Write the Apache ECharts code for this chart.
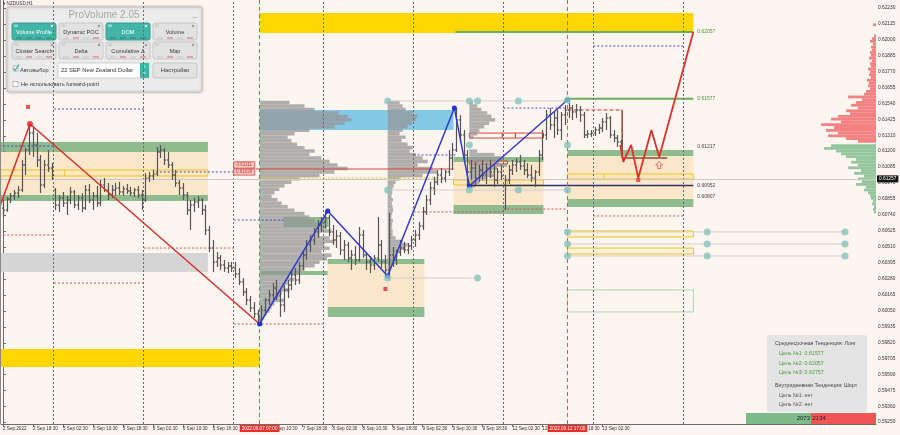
<!DOCTYPE html>
<html>
<head>
<meta charset="utf-8">
<script src="https://cdn.jsdelivr.net/npm/echarts@6/dist/echarts.min.js"></script>
<style>
  html, body { margin: 0; padding: 0; background: #fdf5ef; }
  #chart { width: 900px; height: 435px; }
</style>
</head>
<body>
<div id="chart"></div>
<script>
const FONT = '"Liberation Sans", "DejaVu Sans", sans-serif'

// ---- axes ----
const xTickIdx = [0, 8, 16, 24, 32, 40, 48, 56, 64, 72, 80, 88, 96, 104, 112, 120, 128, 136, 144, 152, 160]
const xTickLabels = ['2 Sep 2022', '2 Sep 18:30', '5 Sep 02:30', '5 Sep 10:30', '5 Sep 18:30', '6 Sep 02:30',
  '6 Sep 10:30', '6 Sep 18:30', '7 Sep 02:30', '7 Sep 10:30', '7 Sep 18:30', '8 Sep 02:30', '8 Sep 10:30',
  '8 Sep 18:30', '9 Sep 02:30', '9 Sep 10:30', '9 Sep 18:30', '12 Sep 02:30', '12 Sep 10:30', '12 Sep 18:30',
  '13 Sep 02:30']
const yTickValues = [0.62230, 0.62115, 0.62000, 0.61885, 0.61770, 0.61655, 0.61540, 0.61425, 0.61310, 0.61200,
  0.61085, 0.60970, 0.60855, 0.60740, 0.60625, 0.60510, 0.60395, 0.60280, 0.60165, 0.60050, 0.59935, 0.59820,
  0.59705, 0.59590, 0.59475, 0.59360, 0.59250]
const daySeparators = [13.5, 37.5, 61.5, 85.5, 109.5, 133.5, 157.5, 181.5]
const markedTimes = [68.5, 150.7]
const markedTimeLabels = ['2022.09.07 07:00', '2022.09.12 17:00']
const bidPrice = 0.61257

// ---- H1 bars: open, high, low, close ----
const bars = [
  [0.60790,0.60848,0.60726,0.60776],[0.60776,0.60870,0.60762,0.60855],[0.60855,0.60898,0.60826,0.60877],
  [0.60877,0.60920,0.60848,0.60898],[0.60898,0.60949,0.60862,0.60920],[0.60920,0.61136,0.60906,0.61100],
  [0.61100,0.61222,0.61028,0.61208],[0.61208,0.61395,0.61172,0.61330],[0.61330,0.61374,0.61158,0.61244],
  [0.61244,0.61330,0.61086,0.61136],[0.61136,0.61172,0.60898,0.60956],[0.60956,0.61136,0.60934,0.61100],
  [0.61100,0.61208,0.61050,0.61078],[0.61078,0.61114,0.60992,0.61028],[0.60920,0.60934,0.60776,0.60812],
  [0.60812,0.60884,0.60762,0.60862],[0.60862,0.60906,0.60798,0.60826],[0.60826,0.60877,0.60740,0.60848],
  [0.60848,0.60942,0.60819,0.60906],[0.60906,0.60920,0.60790,0.60812],[0.60812,0.60884,0.60776,0.60862],
  [0.60862,0.60898,0.60762,0.60790],[0.60790,0.60956,0.60776,0.60920],[0.60920,0.60963,0.60826,0.60848],
  [0.60848,0.60906,0.60776,0.60877],[0.60877,0.60949,0.60798,0.60826],[0.60826,0.60992,0.60805,0.60956],
  [0.60956,0.61006,0.60906,0.60920],[0.60920,0.60970,0.60848,0.60884],[0.60884,0.60956,0.60862,0.60920],
  [0.60920,0.60970,0.60877,0.60934],[0.60934,0.60978,0.60884,0.60906],[0.60906,0.60949,0.60877,0.60927],
  [0.60927,0.60963,0.60891,0.60913],[0.60913,0.60942,0.60877,0.60898],[0.60898,0.60934,0.60870,0.60920],
  [0.60920,0.60949,0.60862,0.60884],[0.60884,0.60920,0.60776,0.60848],[0.60848,0.61042,0.60834,0.61006],
  [0.61006,0.61050,0.60978,0.61021],[0.61021,0.61064,0.60992,0.61035],[0.61035,0.61230,0.61021,0.61194],
  [0.61194,0.61244,0.61150,0.61208],[0.61208,0.61222,0.61100,0.61136],[0.61136,0.61194,0.61078,0.61100],
  [0.61100,0.61122,0.60992,0.61028],[0.61028,0.61064,0.60942,0.60970],[0.60970,0.60992,0.60884,0.60934],
  [0.60934,0.60970,0.60848,0.60884],[0.60884,0.60906,0.60740,0.60776],[0.60776,0.60848,0.60632,0.60812],
  [0.60812,0.60862,0.60762,0.60834],[0.60834,0.60877,0.60790,0.60848],[0.60848,0.60862,0.60740,0.60776],
  [0.60776,0.60812,0.60596,0.60632],[0.60632,0.60661,0.60474,0.60502],[0.60502,0.60560,0.60330,0.60402],
  [0.60402,0.60474,0.60366,0.60430],[0.60430,0.60452,0.60344,0.60380],[0.60380,0.60416,0.60330,0.60358],
  [0.60358,0.60402,0.60322,0.60373],[0.60373,0.60402,0.60330,0.60358],[0.60358,0.60402,0.60286,0.60315],
  [0.60315,0.60358,0.60236,0.60258],[0.60258,0.60286,0.60157,0.60186],[0.60186,0.60214,0.60092,0.60128],
  [0.60128,0.60157,0.60042,0.60070],[0.60070,0.60114,0.59998,0.60027],[0.60027,0.60056,0.59948,0.59984],
  [0.59984,0.60092,0.59941,0.60056],[0.60056,0.60142,0.60020,0.60128],[0.60128,0.60200,0.60092,0.60164],
  [0.60164,0.60250,0.60128,0.60214],[0.60214,0.60272,0.60128,0.60157],[0.60157,0.60200,0.60006,0.60092],
  [0.60092,0.60236,0.60042,0.60200],[0.60200,0.60272,0.60142,0.60236],[0.60236,0.60344,0.60200,0.60308],
  [0.60308,0.60358,0.60236,0.60272],[0.60272,0.60402,0.60243,0.60373],[0.60373,0.60488,0.60344,0.60452],
  [0.60452,0.60560,0.60416,0.60524],[0.60524,0.60596,0.60474,0.60560],[0.60560,0.60646,0.60524,0.60618],
  [0.60618,0.60704,0.60574,0.60668],[0.60668,0.60726,0.60618,0.60690],[0.60690,0.60769,0.60646,0.60718],
  [0.60718,0.60740,0.60589,0.60618],[0.60618,0.60668,0.60524,0.60560],[0.60560,0.60632,0.60502,0.60589],
  [0.60589,0.60618,0.60452,0.60488],[0.60488,0.60560,0.60416,0.60524],[0.60524,0.60546,0.60402,0.60430],
  [0.60430,0.60488,0.60344,0.60452],[0.60452,0.60517,0.60380,0.60416],[0.60416,0.60654,0.60402,0.60596],
  [0.60596,0.60632,0.60430,0.60452],[0.60452,0.60474,0.60344,0.60402],[0.60402,0.60445,0.60322,0.60380],
  [0.60380,0.60452,0.60344,0.60430],[0.60430,0.60726,0.60402,0.60524],[0.60524,0.60560,0.60358,0.60402],
  [0.60402,0.60452,0.60294,0.60344],[0.60344,0.60754,0.60301,0.60452],[0.60452,0.60510,0.60366,0.60416],
  [0.60416,0.60488,0.60380,0.60474],[0.60474,0.60560,0.60445,0.60502],[0.60502,0.60546,0.60466,0.60488],
  [0.60488,0.60538,0.60459,0.60517],[0.60517,0.60589,0.60488,0.60560],[0.60560,0.60632,0.60510,0.60596],
  [0.60596,0.60690,0.60560,0.60661],[0.60661,0.60798,0.60632,0.60762],[0.60762,0.60884,0.60740,0.60848],
  [0.60848,0.60978,0.60812,0.60934],[0.60934,0.61014,0.60884,0.60978],[0.60978,0.61064,0.60956,0.61028],
  [0.61028,0.61078,0.60970,0.61006],[0.61006,0.61064,0.60978,0.61050],[0.61050,0.61208,0.61021,0.61150],
  [0.61150,0.61258,0.61064,0.61208],[0.61208,0.61510,0.61194,0.61424],[0.61424,0.61460,0.61258,0.61316],
  [0.61316,0.61352,0.61136,0.61172],[0.61172,0.61208,0.60949,0.61050],[0.61050,0.61136,0.60992,0.61078],
  [0.61078,0.61122,0.60956,0.61006],[0.61006,0.61100,0.60978,0.61064],[0.61064,0.61136,0.60992,0.61028],
  [0.61028,0.61114,0.60963,0.61078],[0.61078,0.61136,0.61006,0.61050],[0.61050,0.61100,0.60942,0.60992],
  [0.60992,0.61078,0.60963,0.61050],[0.61050,0.61100,0.60992,0.61021],[0.60956,0.61028,0.60776,0.60992],
  [0.60992,0.61100,0.60963,0.61064],[0.61064,0.61136,0.61028,0.61100],[0.61100,0.61150,0.61050,0.61122],
  [0.61122,0.61172,0.61064,0.61093],[0.61093,0.61136,0.61028,0.61064],[0.61064,0.61114,0.61006,0.61028],
  [0.61028,0.61100,0.60978,0.61006],[0.61006,0.61064,0.60942,0.61050],[0.61050,0.61208,0.61021,0.61172],
  [0.61172,0.61352,0.61136,0.61316],[0.61316,0.61496,0.61280,0.61460],[0.61460,0.61510,0.61352,0.61388],
  [0.61388,0.61482,0.61294,0.61438],[0.61438,0.61496,0.61316,0.61352],[0.61352,0.61482,0.61280,0.61460],
  [0.61460,0.61532,0.61388,0.61496],[0.61496,0.61546,0.61438,0.61510],[0.61510,0.61532,0.61424,0.61482],
  [0.61482,0.61539,0.61438,0.61496],[0.61496,0.61525,0.61410,0.61460],[0.61460,0.61482,0.61294,0.61316],
  [0.61316,0.61352,0.61294,0.61323],[0.61323,0.61352,0.61302,0.61330],[0.61330,0.61374,0.61309,0.61352],
  [0.61352,0.61395,0.61323,0.61366],[0.61366,0.61438,0.61338,0.61410],[0.61410,0.61474,0.61352,0.61438],
  [0.61438,0.61453,0.61294,0.61316],[0.61316,0.61352,0.61266,0.61294],[0.61294,0.61316,0.61230,0.61266],
  [0.61266,0.61280,0.61230,0.61257]
]

// ---- zones: from bar, to bar, low price, high price, kind ----
const zones = [
  [-1, 68.5, 0.59646, 0.59775, 'yellow'],
  [68.5, 184.3, 0.62050, 0.62194, 'yellow'],
  [-1, 54.7, 0.60884, 0.61194, 'va'],
  [-1, 54.7, 0.61194, 0.61266, 'green'],
  [-1, 54.7, 0.60841, 0.60884, 'green'],
  [-1, 54.7, 0.60330, 0.60466, 'grey'],
  [68.5, 120.3, 0.61352, 0.61496, 'blue'],
  [74.9, 86.9, 0.60654, 0.60726, 'green'],
  [68.8, 86.7, 0.60308, 0.60337, 'green'],
  [86.7, 112.5, 0.60078, 0.60387, 'va'],
  [86.7, 112.5, 0.60387, 0.60423, 'green'],
  [86.7, 112.5, 0.60006, 0.60078, 'green'],
  [120.3, 144.3, 0.60812, 0.61122, 'va'],
  [120.3, 144.3, 0.61122, 0.61158, 'green'],
  [120.3, 144.3, 0.60747, 0.60812, 'green'],
  [150.7, 184.3, 0.60855, 0.61165, 'va'],
  [150.7, 184.3, 0.61165, 0.61208, 'green'],
  [150.7, 184.3, 0.60798, 0.60855, 'green'],
  [-1, 54.7, 0.61021, 0.61064, 'yellowBox'],
  [120.3, 144.3, 0.60956, 0.60992, 'yellowBox'],
  [150.7, 184.3, 0.60999, 0.61035, 'yellowBox'],
  [150.7, 184.3, 0.60582, 0.60625, 'yellowBox'],
  [150.7, 184.3, 0.60459, 0.60502, 'yellowBox'],
  [150.7, 184.3, 0.60042, 0.60200, 'greenBox'],
  [124.5, 144.3, 0.61294, 0.61330, 'redBox'],
  [124.5, 134.7, 0.61107, 0.61129, 'redBox']
]

// ---- segments: bar1, price1, bar2, price2, kind, label ----
const segments = [
  [120.8, 0.62057, 184.3, 0.62057, 'target', '0.62057'],
  [150.7, 0.61577, 184.3, 0.61577, 'target', '0.61577'],
  [124.5, 0.60952, 184.3, 0.60952, 'navy', '0.60952'],
  [184.3, 0.61230, 184.3, 0.61230, 'none', '0.61217'],
  [184.3, 0.60870, 184.3, 0.60870, 'none', '0.60807'],
  [102.7, 0.61561, 150.7, 0.61561, 'grey', ''],
  [102.7, 0.60920, 150.7, 0.60920, 'grey', ''],
  [102.7, 0.60287, 126.7, 0.60287, 'grey', ''],
  [150.7, 0.60618, 224.8, 0.60618, 'grey', ''],
  [150.7, 0.60531, 224.8, 0.60531, 'grey', ''],
  [150.7, 0.60445, 224.8, 0.60445, 'grey', ''],
  [67.5, 0.61071, 120.3, 0.61071, 'red', ''],
  [68.5, 0.61006, 115.9, 0.61006, 'yellowDot', ''],
  [13.6, 0.61503, 37.6, 0.61503, 'blueDot', ''],
  [-1, 0.61237, 13.6, 0.61237, 'blueDot', ''],
  [40.8, 0.61050, 61.6, 0.61050, 'blueDot', ''],
  [61.6, 0.60704, 74.9, 0.60704, 'blueDot', ''],
  [109.6, 0.61172, 120.8, 0.61172, 'blueDot', ''],
  [133.6, 0.61510, 150.7, 0.61510, 'blueDot', ''],
  [157.6, 0.61957, 181.6, 0.61957, 'blueDot', ''],
  [-1, 0.60596, 13.6, 0.60596, 'redDot', ''],
  [13.6, 0.60250, 37.6, 0.60250, 'redDot', ''],
  [37.6, 0.60502, 61.6, 0.60502, 'redDot', ''],
  [61.6, 0.59955, 85.6, 0.59955, 'redDot', ''],
  [109.6, 0.60762, 133.6, 0.60762, 'redDot', ''],
  [133.6, 0.60783, 150.7, 0.60783, 'redDot', ''],
  [157.6, 0.60733, 181.6, 0.60733, 'redDot', ''],
  [16.5, 0.61021, 16.5, 0.61064, 'yellow', ''],
  [124.8, 0.60956, 124.8, 0.60992, 'yellow', ''],
  [134.7, 0.60956, 134.7, 0.60992, 'yellow', ''],
  [160.5, 0.60999, 160.5, 0.61035, 'yellow', ''],
  [133.3, 0.61294, 133.3, 0.61330, 'red', ''],
  [136.8, 0.61294, 136.8, 0.61330, 'red', ''],
  [150.7, 0.61496, 165.3, 0.61496, 'redDash', ''],
  [165.3, 0.61496, 165.3, 0.61150, 'brown', ''],
  [165.3, 0.61150, 177.3, 0.61150, 'brown', '']
]

// ---- price tags next to the red level ----
const tags = [[61.6, 0.61100, '0.61111'], [61.6, 0.61050, '0.61039']]

// ---- volume profiles (lengths in bars, rows every 0.00025 from the top price) ----
const profileStep = 0.00025
const profileStarts = [68.5, 102.7, 124.5, 124.5]
const profileTops = [0.6155, 0.6155, 0.6155, 0.6120]
const profileLens = [
  [8, 12, 14.7, 21, 23.5, 24.5, 22.7, 20, 13.3, 9.3, 7.5, 8.5, 10, 12, 14.7, 13.3, 16.5, 18.7, 20.8, 23.5,
    20, 16, 10.7, 8.5, 6.7, 5.3, 4, 3.2, 4.8, 5.9, 7.5, 9.3, 12, 13.3, 14.7, 16.5, 18, 19.2, 16, 18.7,
    20, 17.3, 18.7, 16.5, 19.2, 18, 16, 14.7, 12, 10.7, 8, 9.3, 7.5, 6.7, 8, 5.9, 5.3, 6.7, 4, 3.2,
    2.7, 1.6, 1.1, 0.5],
  [3.2, 4, 4.8, 6.7, 8, 7.5, 6.4, 5.3, 4, 3.2, 4.8, 3.7, 5.3, 6.7, 5.9, 7.5, 9.3, 10.7, 8, 12,
    13.3, 9.3, 3.2, 2.1, 1.6, 1.3, 1.2, 1.0, 1.4, 1.1, 1.3, 1.5, 1.2, 1.0, 1.4, 1.2, 1.1, 1.3, 1.3, 2.1,
    4, 5.3, 4.8, 3.2, 2.7, 2.1, 1.6, 1.1, 0.8, 0.5],
  [1, 2.1, 3.2, 4.8, 5.9, 6.9, 5.3, 4, 2.7, 2.1, 1.1],
  [2.1, 6.7, 9.3, 8, 10.1, 7.5, 5.9, 6.7, 4.8, 2.7, 1.6]
]

// ---- depth of market (sizes) ----
const askPrices = [0.6127, 0.6129, 0.6131, 0.6133, 0.6135, 0.6137, 0.6139, 0.6141, 0.6143, 0.6145, 0.6147,
  0.6149, 0.6151, 0.6153, 0.6155, 0.6157, 0.6159, 0.6161, 0.6163, 0.6165, 0.6167, 0.6169, 0.6171, 0.6173,
  0.6175, 0.6177, 0.6179, 0.6181, 0.6183, 0.6185, 0.6187, 0.6189, 0.6191, 0.6193, 0.6195, 0.6197, 0.6199,
  0.6201, 0.6203, 0.6211]
const askSizes = [18, 30, 48, 38, 50, 42, 55, 35, 45, 38, 26, 30, 18, 25, 20, 14, 28, 12, 10, 6, 8, 7, 9, 5,
  7, 6, 8, 5, 6, 4, 7, 5, 6, 4, 5, 3, 6, 4, 2, 3]
const bidPrices = [0.6124, 0.6122, 0.6120, 0.6118, 0.6116, 0.6114, 0.6112, 0.6110, 0.6108, 0.6106, 0.6104,
  0.6102, 0.6100, 0.6098, 0.6096, 0.6094, 0.6092, 0.6090, 0.6088, 0.6086, 0.6084, 0.6082, 0.6080, 0.6078,
  0.6076]
const bidSizes = [45, 52, 40, 35, 30, 20, 25, 18, 28, 15, 22, 12, 18, 14, 20, 10, 12, 8, 6, 5, 3, 4, 2, 3, 2]

// ---- zigzags and marks ----
const redZig = [[-1, 0.60790], [7.2, 0.61395], [68.5, 0.59955]]
const blueZig = [[68.5, 0.59955], [86.7, 0.60769], [102.7, 0.60301], [120.5, 0.61510], [124.5, 0.60949], [150.7, 0.61568]]
const forecast = [[164.8, 0.61244], [165.6, 0.61122], [167.7, 0.61244], [169.6, 0.61006], [173.1, 0.61352],
  [175.2, 0.61158], [184.3, 0.62057]]
const levelDots = [[102.7, 0.61561], [124.5, 0.61561], [126.7, 0.61561], [137.6, 0.61561], [150.7, 0.61568],
  [102.7, 0.60920], [124.5, 0.61244], [150.7, 0.61244], [124.5, 0.60920], [137.6, 0.60920], [150.7, 0.60920],
  [102.7, 0.60287], [126.7, 0.60287], [150.7, 0.60618], [150.7, 0.60531], [150.7, 0.60445],
  [188, 0.60618], [188, 0.60531], [188, 0.60445], [224.8, 0.60618], [224.8, 0.60531], [224.8, 0.60445]]
const stopMarks = [[6.7, 0.61518], [102.1, 0.60207], [169.6, 0.60992]]
const arrowMarks = [[175.2, 0.61100]]

// ---- styles ----
const zoneStyle = {
  yellow: { fill: '#ffd700' },
  va: { fill: '#fce7cb' },
  green: { fill: 'rgba(118,176,122,0.82)' },
  grey: { fill: '#d5d5d5' },
  blue: { fill: '#84c8e8' },
  yellowBox: { fill: 'rgba(255,235,170,0.25)', stroke: '#f0c419', lineWidth: 1 },
  greenBox: { fill: 'none', stroke: '#a9d8b0', lineWidth: 1 },
  redBox: { fill: 'rgba(255,255,255,0.15)', stroke: '#d9443c', lineWidth: 1 }
}
const segStyle = {
  target: { stroke: '#6bad5c', lineWidth: 2 },
  navy: { stroke: '#2a3170', lineWidth: 1.5 },
  grey: { stroke: '#cfcfcf', lineWidth: 1 },
  red: { stroke: '#d9443c', lineWidth: 1.2 },
  yellow: { stroke: '#f0c419', lineWidth: 1 },
  yellowDot: { stroke: '#e8c020', lineWidth: 1, lineDash: [2, 2] },
  blueDot: { stroke: '#4a4ad0', lineWidth: 1, lineDash: [2, 2] },
  redDot: { stroke: '#d9534f', lineWidth: 1, lineDash: [2, 2] },
  redDash: { stroke: '#c0392b', lineWidth: 1, lineDash: [4, 2] },
  brown: { stroke: '#8c4a2c', lineWidth: 1.5 },
  none: null
}

const chart = echarts.init(document.getElementById('chart'), null, { renderer: 'canvas' })

const renderZone = (params, api) => {
  const z = zones[params.dataIndex]
  const a = api.coord([z[0], z[3]])
  const b = api.coord([z[1], z[2]])
  return {
    type: 'rect',
    shape: { x: a[0], y: a[1], width: b[0] - a[0], height: b[1] - a[1] },
    style: zoneStyle[z[4]]
  }
}

const renderSegment = (params, api) => {
  const s = segments[params.dataIndex]
  const a = api.coord([s[0], s[1]])
  const b = api.coord([s[2], s[3]])
  const children = []
  if (segStyle[s[4]]) {
    children.push({ type: 'line', shape: { x1: a[0], y1: a[1], x2: b[0], y2: b[1] }, style: segStyle[s[4]] })
  }
  if (s[5]) {
    children.push({
      type: 'text', x: b[0] + 4, y: b[1],
      style: { text: s[5], fill: s[4] === 'target' ? '#4f9a3f' : '#444', fontSize: 5, fontFamily: FONT, verticalAlign: 'middle' }
    })
  }
  return { type: 'group', children }
}

const renderBar = (params, api) => {
  const i = api.value(0)
  const o = api.coord([i, api.value(1)])
  const h = api.coord([i, api.value(2)])
  const l = api.coord([i, api.value(3)])
  const c = api.coord([i, api.value(4)])
  const x = Math.round(h[0]) + 0.5
  const st = { stroke: '#555555', lineWidth: 1.2 }
  return {
    type: 'group',
    children: [
      { type: 'line', shape: { x1: x, y1: h[1], x2: x, y2: l[1] }, style: st },
      { type: 'line', shape: { x1: x - 1.6, y1: o[1], x2: x, y2: o[1] }, style: st },
      { type: 'line', shape: { x1: x, y1: c[1], x2: x + 1.6, y2: c[1] }, style: st }
    ]
  }
}

const profileRows = []
profileLens.forEach((lens, k) => {
  lens.forEach((len, j) => {
    profileRows.push([profileStarts[k], profileTops[k] - j * profileStep, len])
  })
})

const renderProfile = (params, api) => {
  const start = api.value(0)
  const p = api.value(1)
  const a = api.coord([start, p + profileStep / 2])
  const b = api.coord([start + api.value(2), p - profileStep / 2])
  return {
    type: 'rect',
    shape: { x: a[0], y: a[1], width: b[0] - a[0], height: b[1] - a[1] },
    style: { fill: 'rgba(150,150,150,0.75)' }
  }
}

const domRows = askPrices.map((p, k) => [askSizes[k], p, 1]).concat(bidPrices.map((p, k) => [bidSizes[k], p, 0]))
const renderDom = (params, api) => {
  const a = api.coord([0, api.value(1) + 0.0001])
  const b = api.coord([api.value(0), api.value(1) - 0.0001])
  return {
    type: 'rect',
    shape: { x: b[0], y: a[1], width: a[0] - b[0], height: b[1] - a[1] },
    style: { fill: api.value(2) === 1 ? 'rgba(240,110,110,0.85)' : 'rgba(130,190,145,0.85)' }
  }
}

const renderTag = (params, api) => {
  const t = tags[params.dataIndex]
  const p = api.coord([t[0], t[1]])
  return {
    type: 'group',
    children: [
      { type: 'rect', shape: { x: p[0], y: p[1] - 3.2, width: 21, height: 6.4 }, style: { fill: '#f7c9c6', stroke: '#d9443c', lineWidth: 0.8 } },
      { type: 'text', x: p[0] + 10.5, y: p[1], style: { text: t[2], fill: '#c0392b', fontSize: 4.5, fontFamily: FONT, align: 'center', verticalAlign: 'middle' } }
    ]
  }
}

// ---- panel widget ----
const panel = []
panel.push({ type: 'rect', shape: { x: 7, y: 7, width: 195, height: 85, r: 2 }, style: { fill: '#ececec', stroke: '#c8c8c8', lineWidth: 1, shadowBlur: 3, shadowColor: 'rgba(0,0,0,0.25)' } })
panel.push({ type: 'text', x: 104, y: 15, style: { text: 'ProVolume 2.05', fill: '#a6a6a6', fontSize: 10, fontFamily: FONT, align: 'center', verticalAlign: 'middle' } })
panel.push({ type: 'text', x: 195, y: 14, style: { text: '_', fill: '#999', fontSize: 8, fontFamily: FONT, align: 'center', verticalAlign: 'middle' } })
const btnText = [['Volume Profile', 'Dynamic POC', 'DOM', 'Volume'], ['Cluster Search', 'Delta', 'Cumulative Δ', 'Map']]
const btnOn = [[true, false, true, false], [false, false, false, false]]
const btnX = [12, 59, 106, 153]
const btnY = [23, 42]
btnText.forEach((row, r) => row.forEach((t, c) => {
  const on = btnOn[r][c]
  const x = btnX[c], y = btnY[r]
  panel.push({ type: 'rect', shape: { x, y, width: 44, height: 17, r: 2 }, style: { fill: on ? '#43b4a8' : '#e2e2e2', stroke: on ? '#379c91' : '#c6c6c6', lineWidth: 1 } })
  panel.push({ type: 'rect', shape: { x: x + 2, y: y + 1.5, width: 4, height: 2.5 }, style: { fill: on ? '#8fd6ce' : '#cfcfcf' } })
  panel.push({ type: 'circle', shape: { cx: x + 40, cy: y + 3, r: 1.3 }, style: { fill: on ? '#d0f0ec' : '#a0a0a0' } })
  panel.push({ type: 'text', x: x + 22, y: y + 9, style: { text: t, fill: on ? '#ffffff' : '#3a3a3a', fontSize: 5.6, fontFamily: FONT, align: 'center', verticalAlign: 'middle' } })
  for (let k = 0; k < 4; k++) {
    panel.push({ type: 'rect', shape: { x: x + 4 + k * 10, y: y + 14.5, width: 6, height: 1 }, style: { fill: on ? '#2f7f76' : (k % 2 ? '#d46a6a' : '#c9c9c9') } })
  }
}))
panel.push({ type: 'rect', shape: { x: 13, y: 66, width: 5, height: 5 }, style: { fill: '#fff', stroke: '#aaa', lineWidth: 0.8 } })
panel.push({ type: 'polyline', shape: { points: [[13.5, 68], [15.2, 70.5], [19, 64.5]] }, style: { stroke: '#3aa89c', lineWidth: 1.2, fill: 'none' } })
panel.push({ type: 'text', x: 20, y: 70.5, style: { text: 'Автовыбор', fill: '#3a3a3a', fontSize: 5.6, fontFamily: FONT, verticalAlign: 'middle' } })
panel.push({ type: 'rect', shape: { x: 58, y: 63, width: 91, height: 15 }, style: { fill: '#fff', stroke: '#cfcfcf', lineWidth: 1 } })
panel.push({ type: 'rect', shape: { x: 140, y: 63, width: 9, height: 15 }, style: { fill: '#43b4a8' } })
panel.push({ type: 'text', x: 144.5, y: 67.5, style: { text: '˄', fill: '#fff', fontSize: 5, fontFamily: FONT, align: 'center', verticalAlign: 'middle' } })
panel.push({ type: 'text', x: 144.5, y: 73.5, style: { text: '˅', fill: '#fff', fontSize: 5, fontFamily: FONT, align: 'center', verticalAlign: 'middle' } })
panel.push({ type: 'text', x: 61, y: 70.5, style: { text: '22 SEP New Zealand Dollar', fill: '#333', fontSize: 5.8, fontFamily: FONT, verticalAlign: 'middle' } })
panel.push({ type: 'rect', shape: { x: 153, y: 63, width: 44, height: 15, r: 2 }, style: { fill: '#e2e2e2', stroke: '#c6c6c6', lineWidth: 1 } })
panel.push({ type: 'text', x: 175, y: 70.5, style: { text: 'Настройки', fill: '#3a3a3a', fontSize: 5.8, fontFamily: FONT, align: 'center', verticalAlign: 'middle' } })
panel.push({ type: 'rect', shape: { x: 13, y: 81.5, width: 5, height: 5 }, style: { fill: '#fff', stroke: '#aaa', lineWidth: 0.8 } })
panel.push({ type: 'text', x: 21, y: 84, style: { text: 'Не использовать forward-point', fill: '#3a3a3a', fontSize: 5.6, fontFamily: FONT, verticalAlign: 'middle' } })

// ---- trend info box ----
const info = [
  ['Среднесрочная Тенденция: Лонг', '#444', 775],
  ['Цель №1: 0.61577', '#4b9a3c', 779],
  ['Цель №2: 0.62057', '#4b9a3c', 779],
  ['Цель №3: 0.62757', '#4b9a3c', 779],
  ['Внутридневная Тенденция: Шорт', '#444', 775],
  ['Цель №1: нет', '#555', 779],
  ['Цель №2: нет', '#555', 779]
]
const infoY = [344, 354, 363.5, 373, 386, 396, 405]
const infoBox = [{ type: 'rect', shape: { x: 767, y: 335, width: 100, height: 77, r: 3 }, style: { fill: '#e4e4e4' } }]
info.forEach((row, k) => infoBox.push({ type: 'text', x: row[2], y: infoY[k], style: { text: row[0], fill: row[1], fontSize: 5.3, fontFamily: FONT, verticalAlign: 'middle' } }))

const volBar = [
  { type: 'rect', shape: { x: 746, y: 413, width: 65, height: 11 }, style: { fill: '#7dba8a' } },
  { type: 'rect', shape: { x: 811, y: 413, width: 65, height: 11 }, style: { fill: '#f05454' } },
  { type: 'text', x: 810, y: 418.8, style: { text: '2073', fill: '#222', fontSize: 6, fontFamily: FONT, align: 'right', verticalAlign: 'middle' } },
  { type: 'text', x: 812.5, y: 418.8, style: { text: '2134', fill: '#222', fontSize: 6, fontFamily: FONT, verticalAlign: 'middle' } }
]

const option = {
  animation: false,
  backgroundColor: '#fdf5ef',
  grid: { left: 0, right: 24, top: 0, bottom: 11 },
  xAxis: [{
    type: 'value', min: -0.5333, max: 233.07,
    axisLine: { show: true, onZero: false, lineStyle: { color: '#6d6d6d' } },
    axisTick: { show: true, customValues: xTickIdx, length: 3, lineStyle: { color: '#6d6d6d' } },
    axisLabel: {
      customValues: xTickIdx,
      formatter: (v) => { const k = xTickIdx.indexOf(v); return k >= 0 ? xTickLabels[k] : '' },
      fontSize: 4.6, color: '#333', fontFamily: FONT, align: 'left', margin: 2
    },
    splitLine: { show: false }
  }, {
    type: 'value', min: 0, max: 876, inverse: true, show: false
  }],
  yAxis: {
    type: 'value', position: 'right', min: 0.59235, max: 0.62288,
    axisLine: { show: true, lineStyle: { color: '#6d6d6d' } },
    axisTick: { show: true, customValues: yTickValues, length: 3, lineStyle: { color: '#6d6d6d' } },
    axisLabel: { customValues: yTickValues, formatter: (v) => v.toFixed(5), fontSize: 4.8, color: '#333', fontFamily: FONT, margin: 2 },
    splitLine: { show: false }
  },
  graphic: [
    { type: 'line', shape: { x1: 0.5, y1: 0, x2: 0.5, y2: 424 }, style: { stroke: '#8a8a8a', lineWidth: 1 }, z: 50 },
    { type: 'text', x: 3, y: 4, style: { text: '▾ NZDUSD,H1', fill: '#333', fontSize: 4.6, fontFamily: FONT, verticalAlign: 'middle' }, z: 50 },
    { type: 'group', children: panel, z: 60 },
    { type: 'group', children: infoBox, z: 60 },
    { type: 'group', children: volBar, z: 60 }
  ],
  series: [
    {
      name: 'zones', type: 'custom', z: 1, clip: true, silent: true,
      renderItem: renderZone, encode: { x: 0, y: 2 },
      data: zones.map((z) => [z[0], z[1], z[2], z[3]])
    },
    {
      name: 'guides', type: 'line', z: 2, silent: true, symbol: 'none',
      data: [[-1, 0.5]],
      markLine: {
        silent: true, symbol: ['none', 'none'], animation: false,
        data: daySeparators.map((v) => ({ xAxis: v, lineStyle: { type: [2, 2], color: '#6a6a6a', width: 1 }, label: { show: false } }))
          .concat(markedTimes.map((v, k) => ({
            xAxis: v,
            lineStyle: { type: [4, 3], color: '#e0554f', width: 1 },
            label: { show: true, position: 'start', distance: 1, formatter: markedTimeLabels[k], color: '#fff', backgroundColor: '#e8302a', padding: [1, 2], fontSize: 4.6, fontFamily: FONT }
          })))
          .concat([{
            yAxis: bidPrice,
            lineStyle: { type: 'solid', color: '#c8c8c8', width: 1 },
            label: { show: true, position: 'end', distance: 1, formatter: bidPrice.toFixed(5), color: '#fff', backgroundColor: '#111', padding: [1, 2], fontSize: 4.8, fontFamily: FONT }
          }])
      }
    },
    {
      name: 'profiles', type: 'custom', z: 3, clip: true, silent: true,
      renderItem: renderProfile, encode: { x: 0, y: 1 }, data: profileRows
    },
    {
      name: 'levels', type: 'custom', z: 4, clip: true, silent: true,
      renderItem: renderSegment, encode: { x: 0, y: 1 },
      data: segments.map((s) => [s[0], s[1], s[2], s[3]])
    },
    {
      name: 'bars', type: 'custom', z: 5, clip: true, silent: true,
      renderItem: renderBar, encode: { x: 0, y: [1, 2, 3, 4] },
      data: bars.map((b, i) => [i, b[0], b[1], b[2], b[3]])
    },
    {
      name: 'tags', type: 'custom', z: 6, silent: true,
      renderItem: renderTag, encode: { x: 0, y: 1 },
      data: tags.map((t) => [t[0], t[1]])
    },
    {
      name: 'dom', type: 'custom', z: 4, silent: true, xAxisIndex: 1,
      renderItem: renderDom, encode: { x: 0, y: 1 }, data: domRows
    },
    {
      name: 'redZig', type: 'line', z: 7, silent: true, data: redZig,
      symbol: 'none', lineStyle: { color: '#d8302a', width: 1.5 }
    },
    {
      name: 'blueZig', type: 'line', z: 7, silent: true, data: blueZig,
      symbol: 'circle', symbolSize: 5, itemStyle: { color: '#2430d8' }, lineStyle: { color: '#2f3bd0', width: 1.5 }
    },
    {
      name: 'forecast', type: 'line', z: 7, silent: true, data: forecast,
      symbol: 'none', lineStyle: { color: '#e0302a', width: 1.8 }
    },
    {
      name: 'peak', type: 'scatter', z: 8, silent: true, data: [redZig[1]],
      symbol: 'circle', symbolSize: 6, itemStyle: { color: '#e02020' }
    },
    {
      name: 'levelDots', type: 'scatter', z: 8, silent: true, data: levelDots,
      symbol: 'circle', symbolSize: 7, itemStyle: { color: '#86c3bc' }
    },
    {
      name: 'stops', type: 'scatter', z: 8, silent: true, data: stopMarks,
      symbol: 'rect', symbolSize: 4, itemStyle: { color: '#e03030' }
    },
    {
      name: 'arrows', type: 'scatter', z: 8, silent: true, data: arrowMarks,
      symbol: 'path://M5,0 L10,5 L7,5 L7,10 L3,10 L3,5 L0,5 Z', symbolSize: 7,
      itemStyle: { color: 'rgba(0,0,0,0)', borderColor: '#e05050', borderWidth: 1 }
    }
  ]
}

chart.setOption(option)
</script>
</body>
</html>
